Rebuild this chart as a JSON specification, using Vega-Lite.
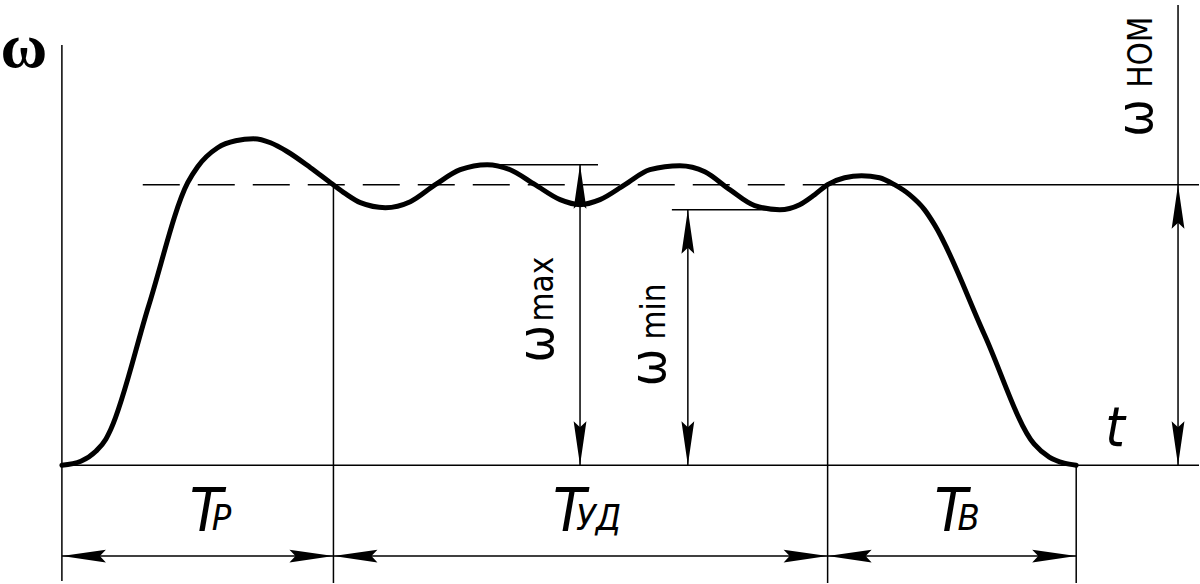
{
  "$schema": "https://vega.github.io/schema/vega-lite/v6.json",
  "width": 1200,
  "height": 584,
  "padding": 0,
  "autosize": {"type": "fit", "contains": "padding"},
  "background": "white",
  "config": {"view": {"stroke": null}},
  "datasets": {
    "curve": [
      {"x": 0, "y": 0}, {"x": 19, "y": 4}, {"x": 34, "y": 14}, {"x": 44, "y": 26}, {"x": 49, "y": 36},
      {"x": 87, "y": 160}, {"x": 126, "y": 283}, {"x": 136, "y": 299}, {"x": 156, "y": 318}, {"x": 174, "y": 325},
      {"x": 192, "y": 327}, {"x": 209, "y": 323}, {"x": 226, "y": 314}, {"x": 249, "y": 298}, {"x": 269, "y": 283},
      {"x": 284, "y": 272}, {"x": 299, "y": 263}, {"x": 324, "y": 258}, {"x": 349, "y": 264}, {"x": 374, "y": 281},
      {"x": 399, "y": 296}, {"x": 426, "y": 301}, {"x": 449, "y": 296}, {"x": 474, "y": 281}, {"x": 499, "y": 266},
      {"x": 519, "y": 261}, {"x": 539, "y": 266}, {"x": 564, "y": 281}, {"x": 589, "y": 296}, {"x": 619, "y": 300},
      {"x": 644, "y": 294}, {"x": 669, "y": 276}, {"x": 694, "y": 260}, {"x": 719, "y": 256}, {"x": 739, "y": 261},
      {"x": 754, "y": 271}, {"x": 767, "y": 281}, {"x": 784, "y": 288}, {"x": 801, "y": 290}, {"x": 819, "y": 288},
      {"x": 834, "y": 281}, {"x": 849, "y": 271}, {"x": 864, "y": 256}, {"x": 874, "y": 241}, {"x": 924, "y": 131},
      {"x": 974, "y": 21}, {"x": 989, "y": 8}, {"x": 1004, "y": 2}, {"x": 1016, "y": 0}
    ],
    "lines": [
      {"x": 0, "x2": 0, "y": 421, "y2": -116},
      {"x": 0, "x2": 1139, "y": 0, "y2": 0},
      {"x": 1118, "x2": 1118, "y": 461, "y2": 0},
      {"x": 769, "x2": 1139, "y": 281, "y2": 281},
      {"x": 272, "x2": 272, "y": 281, "y2": -118},
      {"x": 767, "x2": 767, "y": 281, "y2": -118},
      {"x": 1016, "x2": 1016, "y": 0, "y2": -118},
      {"x": 0, "x2": 1016, "y": -91, "y2": -91},
      {"x": 434, "x2": 537, "y": 301, "y2": 301},
      {"x": 519, "x2": 519, "y": 301, "y2": 0},
      {"x": 611, "x2": 722, "y": 256, "y2": 256},
      {"x": 627, "x2": 627, "y": 256, "y2": 0}
    ],
    "dash": [
      {"x": 81, "x2": 767, "y": 281}
    ],
    "arrows": [
      {"x": 0, "y": -91, "dir": 180}, {"x": 272, "y": -91, "dir": 0}, {"x": 272, "y": -91, "dir": 180},
      {"x": 767, "y": -91, "dir": 0}, {"x": 767, "y": -91, "dir": 180}, {"x": 1016, "y": -91, "dir": 0},
      {"x": 519, "y": 301, "dir": 270}, {"x": 519, "y": 0, "dir": 90},
      {"x": 627, "y": 256, "dir": 270}, {"x": 627, "y": 0, "dir": 90},
      {"x": 1118, "y": 281, "dir": 270}, {"x": 1118, "y": 0, "dir": 90}
    ],
    "omegaTop": [{"x": -38, "y": 399, "label": "ω"}],
    "omegaRot": [
      {"x": 1092, "y": 329, "label": "ω"},
      {"x": 492, "y": 103, "label": "ω"},
      {"x": 604, "y": 79, "label": "ω"}
    ],
    "subRot": [
      {"x": 1092, "y": 378, "label": "НОМ"},
      {"x": 492, "y": 144, "label": "max"},
      {"x": 604, "y": 126, "label": "min"}
    ],
    "tLabel": [{"x": 1055, "y": 19, "label": "t"}],
    "bigT": [
      {"x": 128, "y": -66, "label": "T"},
      {"x": 492, "y": -66, "label": "T"},
      {"x": 874, "y": -66, "label": "T"}
    ],
    "subT": [
      {"x": 150, "y": -65, "label": "Р"},
      {"x": 515, "y": -65, "label": "УД"},
      {"x": 897, "y": -65, "label": "В"}
    ]
  },
  "encoding": {
    "x": {"field": "x", "type": "quantitative", "scale": {"domain": [-61, 1139], "nice": false, "zero": false}, "axis": null},
    "y": {"field": "y", "type": "quantitative", "scale": {"domain": [-118, 466], "nice": false, "zero": false}, "axis": null}
  },
  "layer": [
    {
      "data": {"name": "lines"},
      "mark": {"type": "rule", "color": "black", "strokeWidth": 1.5},
      "encoding": {"x2": {"field": "x2"}, "y2": {"field": "y2"}}
    },
    {
      "data": {"name": "dash"},
      "mark": {"type": "rule", "color": "black", "strokeWidth": 1.5, "strokeDash": [37, 18]},
      "encoding": {"x2": {"field": "x2"}}
    },
    {
      "data": {"name": "curve"},
      "mark": {"type": "line", "color": "black", "strokeWidth": 5, "interpolate": "monotone", "strokeCap": "round", "strokeJoin": "round"},
      "encoding": {}
    },
    {
      "data": {"name": "arrows"},
      "mark": {"type": "point", "filled": true, "color": "black", "opacity": 1, "size": 1600, "shape": "M0,0L-2.2,-0.32L-1.9,0L-2.2,0.32Z"},
      "encoding": {"angle": {"field": "dir", "type": "quantitative", "scale": null}}
    },
    {
      "data": {"name": "omegaTop"},
      "mark": {"type": "text", "font": "Liberation Serif", "fontWeight": "bold", "fontSize": 64, "align": "center", "baseline": "alphabetic", "color": "black"},
      "encoding": {"text": {"field": "label"}}
    },
    {
      "data": {"name": "omegaRot"},
      "mark": {"type": "text", "font": "Liberation Sans Narrow, DejaVu Sans Condensed, Liberation Sans", "fontSize": 50, "angle": 270, "align": "left", "baseline": "alphabetic", "color": "black"},
      "encoding": {"text": {"field": "label"}}
    },
    {
      "data": {"name": "subRot"},
      "mark": {"type": "text", "font": "Liberation Sans Narrow, DejaVu Sans Condensed, Liberation Sans", "fontSize": 33, "angle": 270, "align": "left", "baseline": "alphabetic", "color": "black"},
      "encoding": {"text": {"field": "label"}}
    },
    {
      "data": {"name": "tLabel"},
      "mark": {"type": "text", "font": "Liberation Sans Narrow, DejaVu Sans Condensed, Liberation Sans", "fontStyle": "italic", "fontSize": 56, "align": "center", "baseline": "alphabetic", "color": "black"},
      "encoding": {"text": {"field": "label"}}
    },
    {
      "data": {"name": "bigT"},
      "mark": {"type": "text", "font": "Liberation Sans Narrow, DejaVu Sans Condensed, Liberation Sans", "fontStyle": "italic", "fontSize": 60, "align": "left", "baseline": "alphabetic", "color": "black"},
      "encoding": {"text": {"field": "label"}}
    },
    {
      "data": {"name": "subT"},
      "mark": {"type": "text", "font": "Liberation Sans Narrow, DejaVu Sans Condensed, Liberation Sans", "fontStyle": "italic", "fontSize": 36, "align": "left", "baseline": "alphabetic", "color": "black"},
      "encoding": {"text": {"field": "label"}}
    }
  ]
}
